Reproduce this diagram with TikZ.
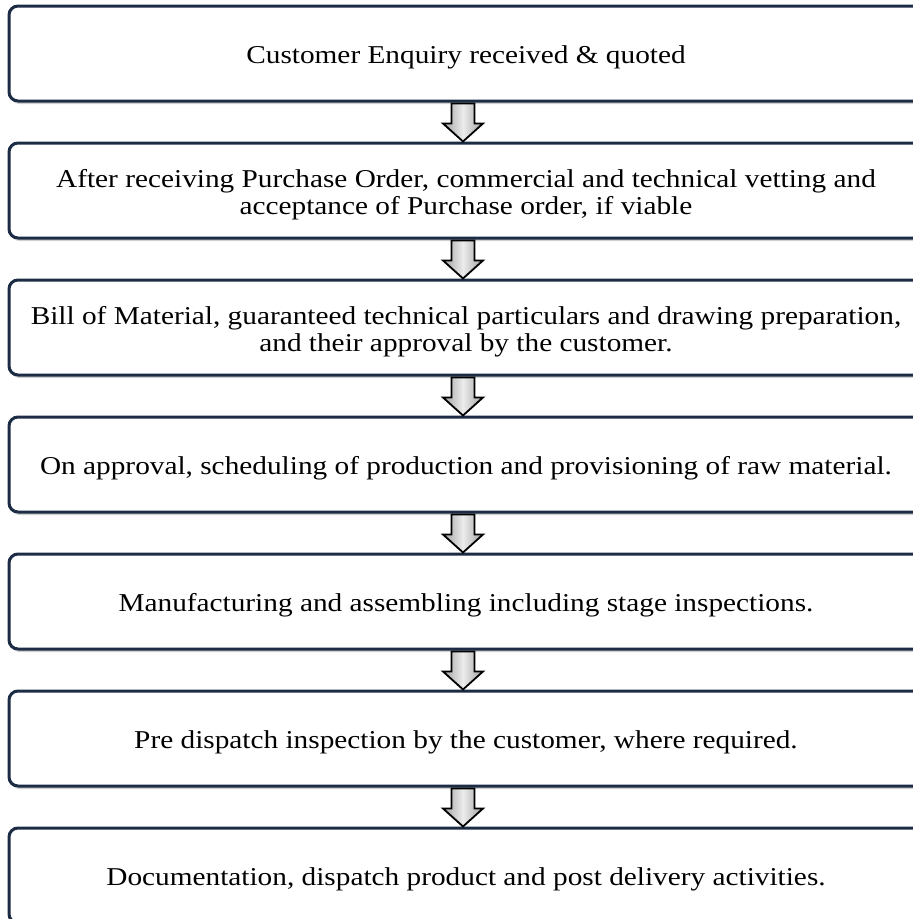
\documentclass[tikz,border=0pt]{standalone}
\usepackage{fontspec}
\setmainfont{Liberation Serif}[FakeStretch=1.14]
\usetikzlibrary{calc,shadows}
\definecolor{boxline}{RGB}{28,44,68}
\definecolor{arrowgray}{RGB}{160,160,160}
\tikzset{
  stagebox/.style={draw=boxline, line width=3pt, rounded corners=9pt, fill=white,
    minimum width=914pt, minimum height=95pt, inner sep=0pt,
    drop shadow={shadow xshift=1.5pt, shadow yshift=-3pt, fill=black, opacity=0.18}},
  stagetext/.style={inner sep=0pt, align=center, font=\fontsize{25.7}{27.5}\selectfont},
  flowarrow/.style={draw=black, line width=1.8pt, line join=miter,
    left color=arrowgray, right color=arrowgray, middle color=gray!15}
}
\newcommand{\flowarr}[2]{%
  \path[flowarrow]
    ($(#1.south)+(-14.5pt,-1pt)$) -- ($(#1.south)+(-14.5pt,-21pt)$) --
    ($(#1.south)+(-23pt,-21pt)$) -- ($(#2.north)+(-3pt,0pt)$) --
    ($(#1.south)+(17pt,-21pt)$) -- ($(#1.south)+(8.5pt,-21pt)$) --
    ($(#1.south)+(8.5pt,-1pt)$) -- cycle;}
\newcommand{\stage}[3]{%
  \node[stagebox] (#1) at (466,#2) {};
  \node[stagetext] (#1t) at ($(#1.center)+(0,4)$) {#3};}
\begin{document}
\begin{tikzpicture}[x=1pt,y=-1pt]
\useasboundingbox (0,0) rectangle (913,919);
\stage{b1}{53.5}{Customer Enquiry received \& quoted}
\stage{b2}{190.5}{After receiving Purchase Order, commercial and technical vetting and\\acceptance of Purchase order, if viable}
\stage{b3}{327.5}{Bill of Material, guaranteed technical particulars and drawing preparation,\\and their approval by the customer.}
\stage{b4}{464.5}{On approval, scheduling of production and provisioning of raw material.}
\stage{b5}{601.5}{Manufacturing and assembling including stage inspections.}
\stage{b6}{738.5}{Pre dispatch inspection by the customer, where required.}
\stage{b7}{875.5}{Documentation, dispatch product and post delivery activities.}
\flowarr{b1}{b2}
\flowarr{b2}{b3}
\flowarr{b3}{b4}
\flowarr{b4}{b5}
\flowarr{b5}{b6}
\flowarr{b6}{b7}
\end{tikzpicture}
\end{document}
